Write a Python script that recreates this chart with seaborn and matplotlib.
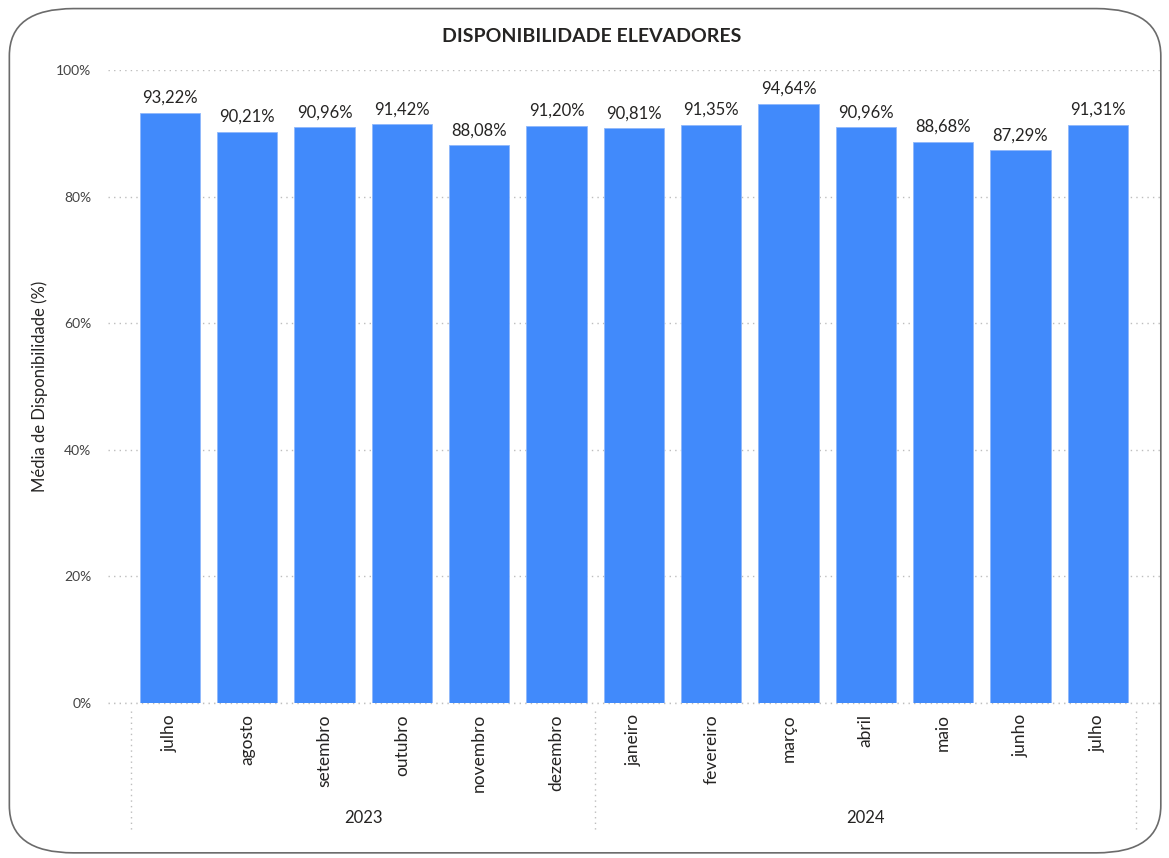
import matplotlib.pyplot as plt
import matplotlib.transforms as mtransforms
from matplotlib.patches import FancyBboxPatch
import pandas as pd
import seaborn as sns

# data
meses = ["julho", "agosto", "setembro", "outubro", "novembro", "dezembro",
         "janeiro", "fevereiro", "março", "abril", "maio", "junho", "julho"]
anos = ["2023"] * 6 + ["2024"] * 7
disponibilidade = [93.22, 90.21, 90.96, 91.42, 88.08, 91.20,
                   90.81, 91.35, 94.64, 90.96, 88.68, 87.29, 91.31]

df = pd.DataFrame({"mes": meses, "ano": anos, "disp": disponibilidade})
df["periodo"] = df["mes"] + " " + df["ano"]

sns.set_style("white")
plt.rcParams['font.family'] = ['Lato', 'DejaVu Sans']
txt = "#252423"
grid_col = "#bdbdbd"

fig = plt.figure(figsize=(11.69, 8.58), dpi=100)

# rounded card border
card = FancyBboxPatch((0.008, 0.006), 0.985, 0.984,
                      boxstyle="round,pad=0,rounding_size=0.055",
                      transform=fig.transFigure, facecolor="white",
                      edgecolor="#6b6b6b", linewidth=1.2, zorder=-10)
fig.patches.append(card)

ax = fig.add_axes([0.0924, 0.1807, 0.8996, 0.7377])
ax.set_facecolor("none")

sns.barplot(data=df, x="periodo", y="disp", color="#418AFB", width=0.78,
            saturation=1, edgecolor="#8fb8fb", linewidth=0.6, ax=ax, zorder=3)

labels = [f"{v:.2f}%".replace(".", ",") for v in disponibilidade]
ax.bar_label(ax.containers[0], labels=labels, padding=5, fontsize=12, color=txt)

ax.set_ylim(0, 100)
ax.set_xlim(-0.8, 12.8)
ax.set_yticks([0, 20, 40, 60, 80, 100])
ax.set_yticklabels([f"{t}%" for t in [0, 20, 40, 60, 80, 100]], fontsize=10, color="#444444")
ax.yaxis.grid(True, linestyle=(0, (1, 3)), color=grid_col, linewidth=1)
ax.axhline(0, linestyle=(0, (1, 3)), color=grid_col, linewidth=1, clip_on=False, zorder=1)
ax.set_xticks(range(len(meses)))
ax.set_xticklabels(meses, rotation=90, fontsize=12.5, color=txt, va="top")
ax.tick_params(axis="both", length=0)
ax.tick_params(axis="x", pad=8)
ax.tick_params(axis="y", pad=12)
for s in ax.spines.values():
    s.set_visible(False)

ax.set_xlabel("")
ax.set_ylabel("Média de Disponibilidade (%)", fontsize=12, color=txt, labelpad=6)

# year grouping below the month labels
trans = mtransforms.blended_transform_factory(ax.transData, ax.transAxes)
for xsep in [-0.5, 5.5, 12.5]:
    ax.plot([xsep, xsep], [-0.012, -0.205], transform=trans, clip_on=False,
            linestyle=(0, (1, 3)), color=grid_col, linewidth=1)
ax.text(2.5, -0.182, "2023", transform=trans, ha="center", va="center",
        fontsize=12, color=txt)
ax.text(9.0, -0.182, "2024", transform=trans, ha="center", va="center",
        fontsize=12, color=txt)

fig.text(0.506, 0.957, "DISPONIBILIDADE ELEVADORES", ha="center", va="center",
         fontsize=14, fontweight="bold", color=txt)

fig.savefig("out.png", dpi=100)
